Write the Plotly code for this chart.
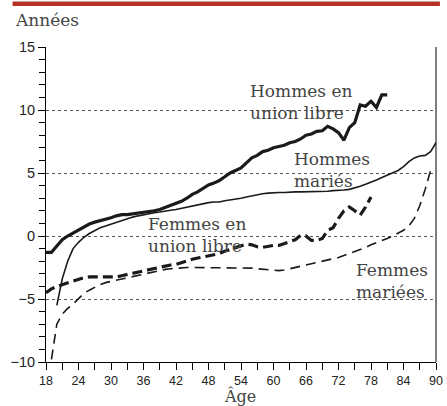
import plotly.graph_objects as go

# ---- data ----
ages_hul = list(range(18, 82))
hommes_union_libre = [-1.3, -1.3, -0.8, -0.3, 0.0, 0.25, 0.5, 0.75, 0.95, 1.1, 1.2, 1.3, 1.45, 1.6,
                      1.7, 1.7, 1.75, 1.85, 1.9, 1.95, 2.0, 2.1, 2.25, 2.4, 2.55, 2.75, 3.0, 3.3,
                      3.5, 3.8, 4.05, 4.2, 4.4, 4.7, 5.0, 5.2, 5.4, 5.8, 6.2, 6.4, 6.7, 6.8, 7.0,
                      7.1, 7.2, 7.4, 7.5, 7.7, 8.0, 8.1, 8.3, 8.35, 8.7, 8.5, 8.2, 7.6, 8.6, 9.0,
                      10.4, 10.3, 10.7, 10.2, 11.2, 11.2]

ages_hm = list(range(20, 91))
hommes_maries = [-5.5, -3.4, -2.0, -1.0, -0.5, -0.1, 0.2, 0.45, 0.65, 0.8, 0.95, 1.1, 1.25, 1.35,
                 1.5, 1.6, 1.7, 1.8, 1.85, 1.9, 2.0, 2.05, 2.1, 2.2, 2.3, 2.4, 2.5, 2.6, 2.65,
                 2.7, 2.7, 2.8, 2.85, 2.95, 3.0, 3.1, 3.2, 3.3, 3.35, 3.4, 3.45, 3.45, 3.45, 3.5,
                 3.5, 3.5, 3.5, 3.5, 3.55, 3.55, 3.55, 3.6, 3.6, 3.65, 3.7, 3.8, 3.95, 4.1, 4.25,
                 4.45, 4.65, 4.85, 5.0, 5.2, 5.5, 5.9, 6.2, 6.35, 6.4, 6.7, 7.4]

ages_ful = list(range(18, 79))
femmes_union_libre = [-4.5, -4.2, -4.0, -3.85, -3.7, -3.55, -3.4, -3.3, -3.25, -3.25, -3.3, -3.3,
                      -3.3, -3.25, -3.15, -3.05, -2.95, -2.85, -2.75, -2.65, -2.55, -2.45, -2.35,
                      -2.3, -2.25, -2.1, -1.95, -1.85, -1.75, -1.65, -1.55, -1.5, -1.4, -1.2,
                      -1.05, -0.9, -0.75, -0.65, -0.7, -0.85, -0.9, -0.8, -0.75, -0.75, -0.6,
                      -0.45, -0.3, 0.05, 0.0, -0.35, -0.35, -0.2, 0.45, 0.65, 1.4, 2.0, 2.3, 2.0,
                      1.65, 2.3, 3.1]

ages_fm = list(range(19, 91))
femmes_mariees = [-9.8, -7.0, -6.2, -5.75, -5.4, -5.0, -4.55, -4.3, -4.05, -3.85, -3.7, -3.6,
                  -3.5, -3.4, -3.3, -3.2, -3.1, -3.05, -2.95, -2.85, -2.75, -2.65, -2.6, -2.55,
                  -2.5, -2.5, -2.5, -2.5, -2.5, -2.5, -2.5, -2.5, -2.5, -2.5, -2.5, -2.5, -2.55,
                  -2.55, -2.6, -2.65, -2.7, -2.75, -2.75, -2.7, -2.6, -2.55, -2.45, -2.35, -2.25,
                  -2.15, -2.05, -1.95, -1.85, -1.7, -1.55, -1.4, -1.2, -1.05, -0.9, -0.7, -0.55,
                  -0.4, -0.2, 0.0, 0.2, 0.45, 0.8, 1.4, 2.4, 3.7, 5.2]

x_ticks = list(range(18, 91, 6))
y_ticks = [-10, -5, 0, 5, 10, 15]

# ---- figure ----
INK = "#1a1a1a"
fig = go.Figure()
fig.add_trace(go.Scatter(x=ages_fm, y=femmes_mariees, mode="lines",
                         line=dict(color=INK, width=1.6, dash="10px,6px")))
fig.add_trace(go.Scatter(x=ages_ful, y=femmes_union_libre, mode="lines",
                         line=dict(color=INK, width=3.2, dash="10px,5px")))
fig.add_trace(go.Scatter(x=ages_hm, y=hommes_maries, mode="lines",
                         line=dict(color=INK, width=1.6)))
fig.add_trace(go.Scatter(x=ages_hul, y=hommes_union_libre, mode="lines",
                         line=dict(color=INK, width=3.2)))

serif = "DejaVu Serif"
TXT = "#444444"
lab = dict(family=serif, size=17, color=TXT)
labels = [
    ("Hommes en<br>union libre", 55.3, 10.6),
    ("Hommes<br>mariés", 63.4, 5.25),
    ("Femmes en<br>union libre", 36.5, 0.05),
    ("Femmes<br>mariées", 74.9, -3.55),
]
for txt, ax, ay in labels:
    fig.add_annotation(x=ax, y=ay, xref="x", yref="y", text=txt, showarrow=False,
                       xanchor="left", yanchor="middle", align="left", font=lab)

W, H = 447, 406
L, R, T, B = 46, 4, 47, 44
pw, ph = W - L - R, H - T - B

def px(xp):
    return (xp - L) / pw

def py(yp):
    return (H - B - yp) / ph

fig.add_annotation(x=px(12), y=py(20), xref="paper", yref="paper", text="Années",
                   showarrow=False, xanchor="left", yanchor="middle",
                   font=dict(family=serif, size=17, color=TXT))
fig.add_annotation(x=px(243), y=py(396), xref="paper", yref="paper", text="Âge",
                   showarrow=False, xanchor="center", yanchor="middle",
                   font=dict(family=serif, size=16, color=TXT))

# red band on top
fig.add_shape(type="rect", xref="paper", yref="paper", x0=px(12), x1=px(447),
              y0=py(6), y1=py(1.5), fillcolor="#b83224", line=dict(width=0), layer="above")
# right frame line
fig.add_shape(type="line", xref="x domain", yref="y domain", x0=1, x1=1, y0=0, y1=1,
              line=dict(color="black", width=1))

fig.update_layout(
    width=W, height=H, margin=dict(l=L, r=R, t=T, b=B),
    paper_bgcolor="white", plot_bgcolor="white", showlegend=False,
    font=dict(family="Liberation Sans, Arial", size=13, color="#222"),
)
fig.update_xaxes(range=[18, 90], tickvals=x_ticks, ticks="outside", ticklen=7, tickcolor="black",
                 showline=True, linecolor="black", linewidth=1, showgrid=False, zeroline=False,
                 minor=dict(dtick=3, tick0=18, ticks="outside", ticklen=7, tickcolor="black"),
                 tickfont=dict(size=12.5), ticklabeloverflow="allow")
fig.update_yaxes(range=[-10, 15], tickvals=y_ticks, ticks="outside", ticklen=7, tickcolor="black",
                 showline=True, linecolor="black", linewidth=1, showgrid=True,
                 gridcolor="#555", griddash="dot", gridwidth=1, zeroline=False,
                 minor=dict(dtick=1, tick0=0, ticks="outside", ticklen=6, tickcolor="black",
                            showgrid=False),
                 tickfont=dict(size=14.5))

fig.write_html("out.html", config={"displayModeBar": False},
               post_script="document.body.style.margin='0';")
